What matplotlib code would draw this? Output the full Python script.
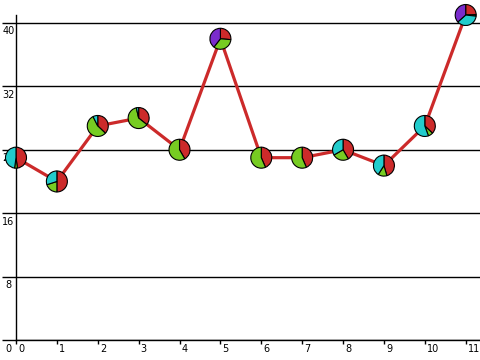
import matplotlib
matplotlib.use("Agg")
import matplotlib.pyplot as plt
import matplotlib.transforms as transforms
from matplotlib.patches import Wedge

# dados
x = [0, 1, 2, 3, 4, 5, 6, 7, 8, 9, 10, 11]
red = [11, 10, 10, 10, 10, 10, 10, 10, 10, 10, 10, 10]
green = [1, 4, 15, 17, 14, 13, 13, 13, 6, 3, 2, 1]
cyan = [11, 6, 2, 1, 0, 0, 0, 0, 8, 9, 15, 15]
purple = [0, 0, 0, 0, 0, 15, 0, 0, 0, 0, 0, 15]
yticks = [0, 8, 16, 24, 32, 40]

cores = ["#cc2a2a", "#77cc22", "#22cccc", "#7a2ccc"]
series = [red, green, cyan, purple]
total = [sum(v) for v in zip(*series)]

fig = plt.figure(figsize=(4.8, 3.6), dpi=100)
ax = fig.add_axes([16 / 480, 20 / 360, 464 / 480, 325 / 360])

ax.plot(x, total, color="#cc2a2a", linewidth=2.3, zorder=3, solid_capstyle="round")

# pizzas como marcadores (tamanho fixo em pixels)
raio = 0.105
for i in range(len(x)):
    desloc = transforms.ScaledTranslation(x[i], total[i], ax.transData)
    inicio = 0
    for s, cor in zip(series, cores):
        v = s[i]
        if v == 0:
            continue
        fim = inicio + v / total[i]
        w = Wedge((0, 0), raio, 90 - fim * 360, 90 - inicio * 360,
                  facecolor=cor, edgecolor="black", linewidth=0.8,
                  transform=fig.dpi_scale_trans + desloc, zorder=5, clip_on=False)
        ax.add_patch(w)
        inicio = fim

ax.set_xlim(0, 11.35)
ax.set_ylim(0, 41)

for lado in ["top", "right"]:
    ax.spines[lado].set_visible(False)
ax.spines["left"].set_linewidth(1)
ax.spines["bottom"].set_linewidth(1)

ax.set_yticks(yticks)
ax.set_yticklabels([str(v) for v in yticks])
ax.set_xticks(x)
ax.set_xticklabels([str(v) for v in x])
ax.yaxis.grid(True, color="black", linewidth=1)
ax.set_axisbelow(True)

ax.tick_params(axis="y", direction="out", length=10.1, width=1, pad=0, labelsize=7)
ax.tick_params(axis="x", direction="out", length=2.9, width=1, pad=0, labelsize=7)

off_y = transforms.ScaledTranslation(6.5 / 100, -3.5 / 100, fig.dpi_scale_trans)
for lbl in ax.get_yticklabels():
    lbl.set_horizontalalignment("center")
    lbl.set_verticalalignment("top")
    lbl.set_transform(lbl.get_transform() + off_y)

off_x = transforms.ScaledTranslation(2 / 100, 0, fig.dpi_scale_trans)
for lbl in ax.get_xticklabels():
    lbl.set_horizontalalignment("left")
    lbl.set_transform(lbl.get_transform() + off_x)

fig.savefig("out.png", dpi=100)
